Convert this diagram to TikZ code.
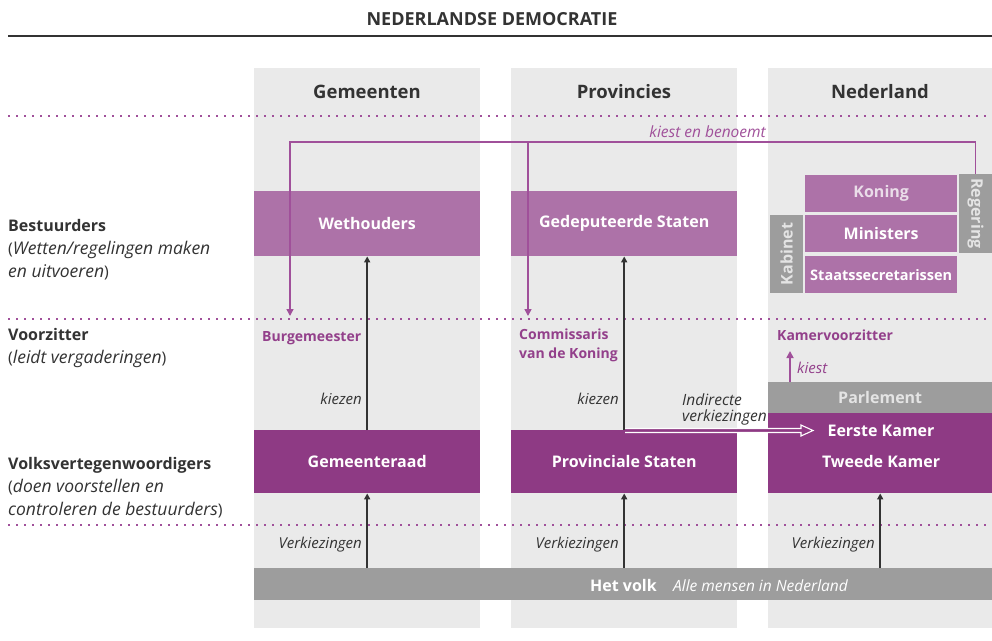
\documentclass[tikz,border=0pt]{standalone}
\usepackage{fontspec}
\setmainfont{Open Sans}
\usetikzlibrary{arrows.meta,calc}
\definecolor{colgray}{HTML}{EAEAEA}
\definecolor{lpurple}{HTML}{AD72A8}
\definecolor{dpurple}{HTML}{8E3A84}
\definecolor{mgray}{HTML}{9D9D9D}
\definecolor{gtext}{HTML}{E4E4E4}
\definecolor{ktext}{HTML}{EADDE9}
\definecolor{txt}{HTML}{333333}
\definecolor{ptxt}{HTML}{93408B}
\definecolor{pline}{HTML}{A0509A}
\newcommand\fBox{\fontsize{16}{19}\selectfont\bfseries}
\newcommand\fSmallBox{\fontsize{14.5}{17}\selectfont\bfseries}
\newcommand\fHead{\fontsize{18.5}{22}\selectfont\bfseries}
\newcommand\fTitle{\fontsize{18}{20}\selectfont\bfseries}
\newcommand\fLab{\fontsize{16}{19}\selectfont}
\newcommand\fLabIt{\fontsize{17.5}{19}\selectfont\itshape}
\newcommand\fPur{\fontsize{14}{17}\selectfont\bfseries}
\newcommand\fIt{\fontsize{15}{17}\selectfont\itshape}
\newcommand\fItB{\fontsize{15.5}{17}\selectfont\itshape}
\tikzset{
 col/.style={fill=colgray, draw=none, inner sep=0, anchor=north west},
 lbox/.style={fill=lpurple, text=white, font=\fBox, inner sep=0, anchor=north west},
 dbox/.style={fill=dpurple, text=white, font=\fBox, inner sep=0, anchor=north west},
 gbox/.style={fill=mgray, text=gtext, font=\fBox, inner sep=0},
 hdr/.style={text=txt, font=\fHead, anchor=base, inner sep=0},
 lab/.style={text=txt, font=\fLab, anchor=base west, inner sep=0},
 plab/.style={text=ptxt, font=\fPur, anchor=base west, inner sep=0},
 ilab/.style={text=txt, font=\fIt, inner sep=0},
 arr/.style={draw=txt, line width=1.6, -{Triangle[length=6,width=6]}},
 parr/.style={draw=pline, line width=1.6, -{Triangle[length=7,width=7]}},
 dots/.style={draw=pline, line width=1.8, dash pattern=on 1.8 off 6.2},
}
\begin{document}
\begin{tikzpicture}[x=1pt,y=-1pt]
\useasboundingbox (0,0) rectangle (992,640);
\fill[white] (0,0) rectangle (992,640);

% title
\node[text=txt, font=\fTitle, anchor=base, inner sep=0] (title) at (492,25) {NEDERLANDSE DEMOCRATIE};
\coordinate (ruleL) at (8,36);
\coordinate (ruleR) at (992,36);
\draw[txt, line width=2] (ruleL) -- (ruleR);

% columns
\node[col, minimum width=226, minimum height=560] (colG) at (254,68) {};
\node[col, minimum width=226, minimum height=560] (colP) at (511,68) {};
\node[col, minimum width=224, minimum height=560] (colN) at (768,68) {};

\node[hdr] (hG) at (367,98) {Gemeenten};
\node[hdr] (hP) at (624,98) {Provincies};
\node[hdr] (hN) at (880,98) {Nederland};

% dotted lines
\coordinate (d1L) at (8,116); \coordinate (d1R) at (992,116);
\coordinate (d2L) at (8,319); \coordinate (d2R) at (992,319);
\coordinate (d3L) at (8,525); \coordinate (d3R) at (992,525);
\draw[dots] (d1L) -- (d1R);
\draw[dots] (d2L) -- (d2R);
\draw[dots] (d3L) -- (d3R);

% left labels
\node[lab] (l1) at (8,231) {\bfseries Bestuurders};
\node[lab] (l2) at (8,254) {({\fLabIt Wetten/regelingen maken}};
\node[lab] (l3) at (8,277) {{\fLabIt en uitvoeren})};
\node[lab] (l4) at (8,340) {\bfseries Voorzitter};
\node[lab] (l5) at (8,363) {({\fLabIt leidt vergaderingen})};
\node[lab] (l6) at (8,469) {\bfseries Volksvertegenwoordigers};
\node[lab] (l7) at (8,492) {({\fLabIt doen voorstellen en}};
\node[lab] (l8) at (8,515) {{\fLabIt controleren de bestuurders})};

% bestuurders boxes
\node[lbox, minimum width=226, minimum height=65] (weth) at (254,191) {Wethouders};
\node[lbox, minimum width=226, minimum height=65] (gedep) at (511,191) {Gedeputeerde Staten};
\node[lbox, text=ktext, minimum width=152, minimum height=37] (koning) at (805,175) {Koning};
\node[lbox, minimum width=152, minimum height=37] (min) at (805,215) {Ministers};
\node[lbox, font=\fSmallBox, minimum width=152, minimum height=37] (staats) at (805,256) {Staatssecretarissen};
\node[gbox, rotate=90, minimum width=78, minimum height=33] (kab) at (786.5,254) {Kabinet};
\node[gbox, rotate=-90, minimum width=79, minimum height=33] (reg) at (975.5,213.5) {Regering};

% volksvertegenwoordigers
\node[dbox, minimum width=226, minimum height=63] (graad) at (254,430) {Gemeenteraad};
\node[dbox, minimum width=226, minimum height=63] (pstaten) at (511,430) {Provinciale Staten};
\node[gbox, anchor=north west, minimum width=224, minimum height=31] (parl) at (768,382) {Parlement};
\node[dbox, minimum width=224, minimum height=80] (kamer) at (768,413) {};
\node[text=white, font=\fBox, anchor=base, inner sep=0] (eerste) at (881,436) {Eerste Kamer};
\node[text=white, font=\fBox, anchor=base, inner sep=0] (tweede) at (881,467) {Tweede Kamer};

% het volk
\node[gbox, anchor=north west, minimum width=738, minimum height=32] (volk) at (254,568) {};
\node[text=white, font=\fBox, anchor=base east, inner sep=0] (volkT) at (657,591) {Het volk};
\node[text=white, font=\fItB, anchor=base west, inner sep=0] (volkS) at (673,591) {Alle mensen in Nederland};

% voorzitters
\node[plab] (burg) at (262,341) {Burgemeester};
\node[plab] (cdk1) at (519,339) {Commissaris};
\node[plab] (cdk2) at (519,358) {van de Koning};
\node[plab] (kvz) at (777,340) {Kamervoorzitter};

% kiezen arrows
\draw[arr] (graad.north) -- (weth.south);
\draw[arr] (pstaten.north) -- (gedep.south);
\node[ilab, anchor=base east] (kz1) at (362,404) {kiezen};
\node[ilab, anchor=base east] (kz2) at (619,404) {kiezen};

% verkiezingen arrows
\draw[arr] (volk.north -| graad.south) -- (graad.south);
\draw[arr] (volk.north -| pstaten.south) -- (pstaten.south);
\draw[arr] (volk.north -| kamer.south) -- (kamer.south);
\node[ilab, anchor=base east] (vk1) at (362,548) {Verkiezingen};
\node[ilab, anchor=base east] (vk2) at (619,548) {Verkiezingen};
\node[ilab, anchor=base east] (vk3) at (875,548) {Verkiezingen};

% kamervoorzitter kiest
\coordinate (kvTip) at (790,351);
\draw[parr] (parl.north -| kvTip) -- (kvTip);
\node[ilab, text=ptxt, anchor=base west] (kiest) at (797,373) {kiest};

% indirecte verkiezingen
\node[ilab, font=\fItB, anchor=base west] (ind1) at (682,405) {Indirecte};
\node[ilab, font=\fItB, anchor=base west] (ind2) at (682,421) {verkiezingen};
\coordinate (indS) at (625,430.5);
\coordinate (indT) at (813,430.5);
\fill[dpurple] ($(indS)+(0,-2)$) -- ($(indT)+(-12,-2)$) -- ($(indT)+(-12,-5.5)$) -- (indT) -- ($(indT)+(-12,5.5)$) -- ($(indT)+(-12,2)$) -- ($(indS)+(0,2)$) -- cycle;
\draw[white, line width=1.1, line join=miter] ($(indS)+(0,-2)$) -- ($(indT)+(-12,-2)$) -- ($(indT)+(-12,-5.5)$) -- (indT) -- ($(indT)+(-12,5.5)$) -- ($(indT)+(-12,2)$) -- ($(indS)+(0,2)$);

% kiest en benoemt
\coordinate (kbL) at (290,142);
\coordinate (kbM) at (528,142);
\coordinate (burgTip) at (290,316);
\coordinate (cdkTip) at (528,316);
\draw[parr, line width=1.5] (reg.west) |- (kbL) -- (burgTip);
\draw[parr, line width=1.5] (kbM) -- (cdkTip);
\node[ilab, font=\fItB, text=pline, anchor=base east] (kbT) at (766,137) {kiest en benoemt};
\end{tikzpicture}
\end{document}
